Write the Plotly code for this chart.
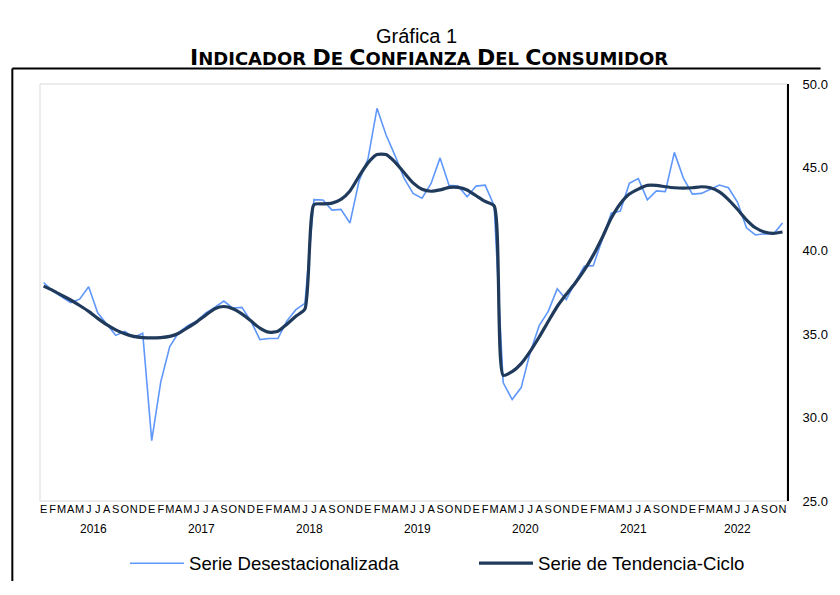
import plotly.graph_objects as go

# ---- data (Jan 2016 .. Nov 2022) ----
month_letters = ["E", "F", "M", "A", "M", "J", "J", "A", "S", "O", "N", "D"]
years = ["2016", "2017", "2018", "2019", "2020", "2021", "2022"]
months_in_year = [12, 12, 12, 12, 12, 12, 11]

serie_desest = [
    38.10, 37.60, 37.24, 36.90, 37.10, 37.85, 36.28, 35.60, 34.93, 35.16, 34.80, 35.06,
    28.62, 32.14, 34.26, 35.12, 35.51, 35.80, 36.28, 36.61, 36.99, 36.57, 36.61, 35.80,
    34.68, 34.74, 34.74, 35.80, 36.47, 36.85, 43.07, 43.05, 42.44, 42.48, 41.67, 44.17,
    45.51, 48.54, 46.96, 45.71, 44.36, 43.44, 43.15, 44.04, 45.57, 43.92, 43.88, 43.24,
    43.88, 43.94, 42.70, 32.10, 31.08, 31.80, 33.91, 35.51, 36.37, 37.72, 37.08, 38.11,
    39.07, 39.11, 40.65, 42.25, 42.38, 44.04, 44.33, 43.05, 43.59, 43.55, 45.90, 44.36,
    43.40, 43.44, 43.69, 43.94, 43.78, 42.92, 41.38, 40.95, 41.03, 41.00, 41.67,
]
serie_tendencia = [
    37.88, 37.63, 37.34, 37.05, 36.72, 36.37, 35.95, 35.57, 35.26, 35.03, 34.87, 34.80,
    34.78, 34.80, 34.87, 35.06, 35.39, 35.74, 36.14, 36.53, 36.66, 36.53, 36.22, 35.80,
    35.37, 35.12, 35.18, 35.60, 36.08, 36.51, 42.77, 42.81, 42.86, 43.08, 43.59, 44.46,
    45.27, 45.77, 45.77, 45.32, 44.69, 44.07, 43.69, 43.57, 43.65, 43.80, 43.80, 43.65,
    43.30, 42.96, 42.69, 32.53, 32.76, 33.24, 33.97, 34.83, 35.76, 36.66, 37.39, 38.07,
    38.84, 39.74, 40.80, 41.96, 42.82, 43.40, 43.70, 43.92, 43.92, 43.84, 43.78, 43.76,
    43.78, 43.84, 43.78, 43.53, 43.07, 42.49, 41.86, 41.38, 41.13, 41.05, 41.13,
]

n = len(serie_desest)
x_idx = list(range(n))
tick_text = [month_letters[i % 12] for i in range(n)]

FONT = "Liberation Sans, Arial, sans-serif"

W, H = 840, 595
L, R, T, B = 40, 796, 84, 517
plot_w = R - L
plot_h = B - T


def px_x(px):
    return (px - L) / plot_w


def px_y(py):
    return (B - py) / plot_h


fig = go.Figure()
fig.add_trace(go.Scatter(
    x=x_idx, y=serie_desest, mode="lines", name="Serie Desestacionalizada",
    line=dict(color="#5F97FA", width=1.6),
))
fig.add_trace(go.Scatter(
    x=x_idx, y=serie_tendencia, mode="lines", name="Serie de Tendencia-Ciclo",
    line=dict(color="#203A5C", width=3.2, shape="spline", smoothing=0.6),
))

annotations = []
start = 0
for yr, cnt in zip(years, months_in_year):
    annotations.append(dict(
        x=start + (cnt - 1) / 2, y=0, xref="x", yref="paper", yanchor="top",
        yshift=-19, text=yr, showarrow=False,
        font=dict(family=FONT, size=12, color="#000000"),
    ))
    start += cnt


def small_caps(text, big, small):
    out = []
    for word in text.split(" "):
        out.append("<span style='font-size:%dpx'>%s</span>%s" % (big, word[0], word[1:]))
    return "<b>" + " ".join(out) + "</b>"


annotations.append(dict(
    x=px_x(421), y=px_y(34), xref="paper", yref="paper",
    text="Gráfica 1", showarrow=False, yanchor="middle",
    font=dict(family=FONT, size=20, color="#000000"),
))
annotations.append(dict(
    x=px_x(434), y=px_y(57), xref="paper", yref="paper",
    text=small_caps("INDICADOR DE CONFIANZA DEL CONSUMIDOR", 22, 18), showarrow=False,
    yanchor="middle",
    font=dict(family="DejaVu Sans, Liberation Sans, sans-serif", size=18, color="#000000"),
))

shapes = [
    dict(type="rect", xref="paper", yref="paper", x0=0, x1=1, y0=0, y1=1,
         line=dict(color="#D9D9D9", width=1), layer="below"),
    dict(type="line", xref="paper", yref="paper",
         x0=px_x(12), x1=px_x(830), y0=px_y(68), y1=px_y(68),
         line=dict(color="#000000", width=2)),
    dict(type="line", xref="paper", yref="paper",
         x0=px_x(12), x1=px_x(12), y0=px_y(68), y1=px_y(600),
         line=dict(color="#000000", width=2)),
]

fig.update_layout(
    width=W, height=H,
    margin=dict(l=L, r=W - R, t=T, b=H - B),
    paper_bgcolor="white", plot_bgcolor="white",
    font=dict(family=FONT, color="#000000"),
    showlegend=True,
    legend=dict(
        orientation="h", x=px_x(126), xanchor="left", y=px_y(582), yanchor="middle",
        font=dict(family=FONT, size=18.6, color="#000000"),
        itemwidth=54, entrywidth=280, bgcolor="rgba(0,0,0,0)",
    ),
    annotations=annotations,
    shapes=shapes,
    xaxis=dict(
        range=[-0.4, 82.5], tickmode="array", tickvals=x_idx, ticktext=tick_text,
        tickangle=0, showgrid=False, zeroline=False, showline=False, ticks="",
        tickfont=dict(family=FONT, size=11, color="#000000"),
        ticklabelstandoff=0,
    ),
    yaxis=dict(
        side="right", range=[25, 50], dtick=5, tick0=25, tickformat=".1f",
        showgrid=False, zeroline=False, showline=True, linecolor="#000000", linewidth=2,
        ticks="", ticklabelstandoff=11,
        tickfont=dict(family=FONT, size=13, color="#000000"),
    ),
)

fig.write_html(
    "out.html",
    config={"displayModeBar": False},
    post_script="document.body.style.margin='0px';document.body.style.overflow='hidden';",
)
